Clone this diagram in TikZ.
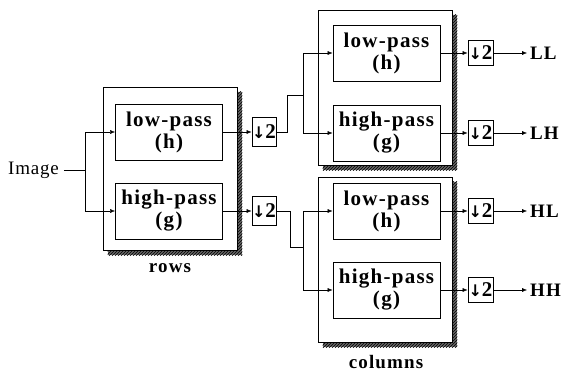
\documentclass[tikz,border=0pt]{standalone}
\usepackage{fontspec}
\setmainfont{Liberation Serif}
\newfontfamily\lblfont[LetterSpace=6]{Liberation Serif}
\newfontfamily\imgfont[LetterSpace=4]{Liberation Serif}
\newfontfamily\arrfont{DejaVu Sans}
\usetikzlibrary{arrows.meta,patterns}
\pgfdeclarelayer{bg}
\pgfsetlayers{bg,main}
\begin{document}
\begin{tikzpicture}[x=1pt,y=-1pt,
  line width=0.7pt,
  arr/.style={-{Latex[length=5pt,width=4pt]}},
  outerbox/.style={draw, fill=white, line width=0.9pt, minimum width=134pt, inner sep=0pt},
  shadowfill/.style={fill=black!60},
  shadowhatch/.style={pattern=north east lines, pattern color=black},
  filt/.style={draw, fill=white, line width=0.9pt, minimum width=107pt, minimum height=56pt,
    inner sep=0pt, align=center, font=\lblfont\bfseries\fontsize{21}{22}\selectfont},
  dsl/.style={draw, fill=white, line width=0.9pt, minimum width=24pt, minimum height=29pt, inner sep=0pt},
  dsr/.style={draw, fill=white, line width=0.9pt, minimum width=25pt, minimum height=25pt, inner sep=0pt},
  lbl/.style={inner sep=3pt, font=\lblfont\bfseries\fontsize{19}{20}\selectfont},
  imglbl/.style={inner sep=3pt, font=\imgfont\fontsize{19}{20}\selectfont}
]
\useasboundingbox (0,0) rectangle (566,374);
\newcommand{\dtwo}{{\arrfont\bfseries\fontsize{16}{16}\selectfont ↓}{\bfseries\fontsize{21}{21}\selectfont 2}}

% outer boxes
\node[outerbox, minimum height=163pt] (rows) at (170,168.5) {};
\node[outerbox, minimum height=155pt] (coltop) at (385,87.5) {};
\node[outerbox, minimum height=165pt] (colbot) at (385,259.5) {};

% shadows behind the outer boxes
\begin{pgfonlayer}{bg}
\foreach \b in {rows,coltop,colbot}{
  \fill[shadowfill] ([shift={(5,5)}]\b.north west) rectangle ([shift={(5,5)}]\b.south east);
  \fill[shadowhatch] ([shift={(5,5)}]\b.north west) rectangle ([shift={(5,5)}]\b.south east);
}
\end{pgfonlayer}

% filters
\node[filt] (rlow) at (169,132) {low-pass\\(h)};
\node[filt] (rhigh) at (169,211) {high-pass\\(g)};
\node[filt] (c1low) at (386.5,53) {low-pass\\(h)};
\node[filt] (c1high) at (386.5,133) {high-pass\\(g)};
\node[filt] (c2low) at (386.5,211) {low-pass\\(h)};
\node[filt] (c2high) at (386.5,290) {high-pass\\(g)};

% downsamplers
\node[dsl] (d1) at (264,132) {\dtwo};
\node[dsl] (d2) at (264,211) {\dtwo};
\node[dsr] (e1) at (480.5,53) {\dtwo};
\node[dsr] (e2) at (480.5,133) {\dtwo};
\node[dsr] (e3) at (480.5,211) {\dtwo};
\node[dsr] (e4) at (480.5,290) {\dtwo};

% labels
\node[imglbl, anchor=west] (img) at (5,170) {Image};
\node[lbl, anchor=west] (ll) at (527,53) {LL};
\node[lbl, anchor=west] (lh) at (527,133) {LH};
\node[lbl, anchor=west] (hl) at (527,211) {HL};
\node[lbl, anchor=west] (hh) at (527,290) {HH};
\node[lbl] (rowslbl) at (170,268) {rows};
\node[lbl] (collbl) at (386,362) {columns};

% input fork
\coordinate (f0) at (85,170);
\draw (img.east) ++(2,0) -- (f0);
\draw[arr] (f0) |- (rlow.west);
\draw[arr] (f0) |- (rhigh.west);

% rows to downsamplers
\draw[arr] (rlow.east) -- (d1.west);
\draw[arr] (rhigh.east) -- (d2.west);

% to columns
\coordinate (j1) at (287,132);
\coordinate (f1) at (303,95);
\draw (d1.east) -- (j1) |- (f1);
\draw[arr] (f1) |- (c1low.west);
\draw[arr] (f1) |- (c1high.west);
\coordinate (j2) at (290,211);
\coordinate (f2) at (303,247);
\draw (d2.east) -- (j2) |- (f2);
\draw[arr] (f2) |- (c2low.west);
\draw[arr] (f2) |- (c2high.west);

% columns to downsamplers
\draw[arr] (c1low.east) -- (e1.west);
\draw[arr] (c1high.east) -- (e2.west);
\draw[arr] (c2low.east) -- (e3.west);
\draw[arr] (c2high.east) -- (e4.west);

% outputs
\draw[arr] (e1.east) -- (ll.west);
\draw[arr] (e2.east) -- (lh.west);
\draw[arr] (e3.east) -- (hl.west);
\draw[arr] (e4.east) -- (hh.west);
\end{tikzpicture}
\end{document}
